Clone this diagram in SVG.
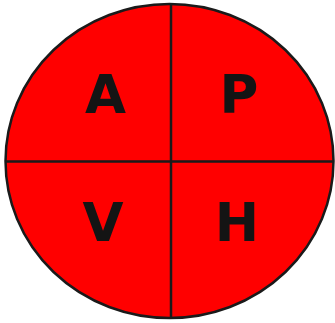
<svg xmlns="http://www.w3.org/2000/svg" width="335" height="323" viewBox="0 0 335 323">
<style>
.q{font-family:"DejaVu Sans","Liberation Sans",sans-serif;font-weight:bold;font-size:53px;fill:#141414;text-anchor:middle}
.ln{stroke:#1a1a1a;stroke-width:2.5;fill:none}
</style>
<rect width="335" height="323" fill="#fff"/>
<g id="circle">
<ellipse cx="169.5" cy="161" rx="164" ry="157" fill="#ff0000" stroke="#1a1a1a" stroke-width="2.5"/>
</g>
<g id="connectors">
<line class="ln" x1="171" y1="4" x2="171" y2="318"/>
<line class="ln" x1="5.5" y1="161.5" x2="333.5" y2="161.5"/>
</g>
<g id="A"><text class="q" x="105.5" y="113">A</text></g>
<g id="P"><text class="q" x="239" y="113">P</text></g>
<g id="V"><text class="q" x="103" y="241">V</text></g>
<g id="H"><text class="q" x="237" y="241">H</text></g>
</svg>
